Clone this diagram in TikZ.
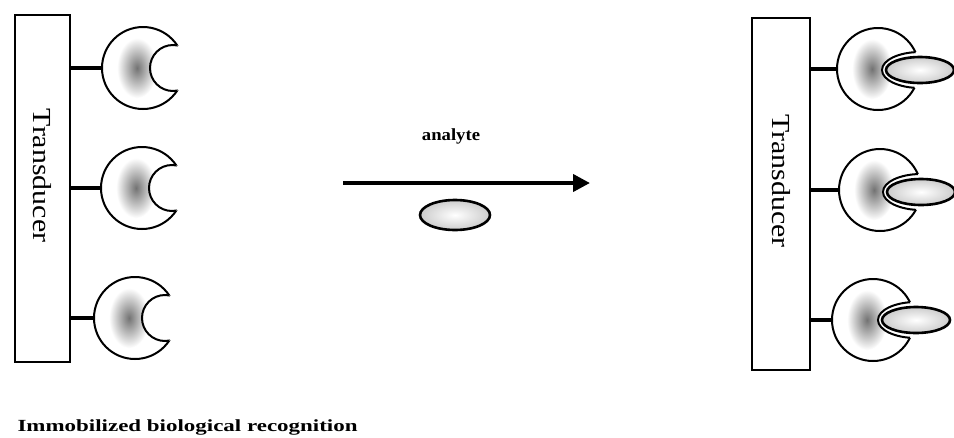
\documentclass[tikz,border=0pt]{standalone}
\usepackage{fontspec}
\usepackage{graphicx}
\setmainfont{Liberation Serif}
\usetikzlibrary{arrows.meta,calc,shapes.geometric}

\tikzset{
  transducer/.style={draw,line width=1.4pt,inner sep=0pt,font=\fontsize{26}{26}\selectfont},
  receptor/.style={circle,draw,line width=2pt,fill=white,minimum size=82pt,inner sep=0pt},
  site/.style={inner color=black!55,outer color=white},
  analyte/.style={ellipse,draw,line width=2.6pt,inner sep=0pt,inner color=white,outer color=black!20},
  link/.style={line width=4pt},
  caption/.style={font=\fontsize{17}{17}\selectfont\bfseries}
}

\begin{document}
\begin{tikzpicture}[x=1pt,y=-1pt]
  \useasboundingbox (0,0) rectangle (954,437);

  % sensor surface, before binding
  \node [transducer,minimum width=55pt,minimum height=347pt] (tl) at (42.5,188.5)
    {\rotatebox{-90}{\scalebox{1.15}[1]{Transducer}\hspace{26pt}}};
  \foreach \n/\x/\y in {1/143/68,2/142/188,3/135/318} {
    \node [receptor] (rl\n) at (\x,\y) {};
    \begin{scope}
      \clip (rl\n.center) circle (40);
      \shade [site] ($(rl\n.center)+(-6,0)$) ellipse (20 and 30);
    \end{scope}
    \fill [white] ($(rl\n.center)+(30,0)$) circle (23);
    \begin{scope}
      \clip (rl\n.center) circle (41);
      \draw [line width=2pt] ($(rl\n.center)+(30,0)$) circle (23);
    \end{scope}
    \draw [link] (tl.east |- rl\n.center) -- (rl\n.west);
  }

  % adding the analyte
  \coordinate (start) at (343,183);
  \coordinate (stop) at (590,183);
  \draw [link,-{Triangle[length=17pt,width=17pt]}] (start) -- (stop);
  \node [caption] (lab) at (451,136) {\scalebox{1.1}[1]{analyte}};
  \node [analyte,minimum width=70pt,minimum height=30pt] (free) at (455,215) {};

  % sensor surface, after binding
  \node [transducer,minimum width=58pt,minimum height=352pt] (tr) at (781,194)
    {\rotatebox{-90}{\scalebox{1.15}[1]{Transducer}\hspace{26pt}}};
  \foreach \n/\x/\y/\ax/\ay in {1/878/69/920/70,2/880/190/921/192,3/873/320/916/320} {
    \node [receptor] (rr\n) at (\x,\y) {};
    \begin{scope}
      \clip (rr\n.center) circle (40);
      \shade [site] ($(rr\n.center)+(-6,0)$) ellipse (20 and 30);
    \end{scope}
    \fill [white] (\ax,\ay) ellipse (38 and 18);
    \begin{scope}
      \clip (rr\n.center) circle (41);
      \draw [line width=2pt] (\ax,\ay) ellipse (38 and 18);
    \end{scope}
    \node [analyte,minimum width=68pt,minimum height=26pt] (ar\n) at (\ax,\ay) {};
    \draw [link] (tr.east |- rr\n.center) -- (rr\n.west);
  }

  \node [caption,anchor=west] (cap) at (14,427)
    {\scalebox{1.35}[1]{Immobilized biological recognition}};
\end{tikzpicture}
\end{document}
